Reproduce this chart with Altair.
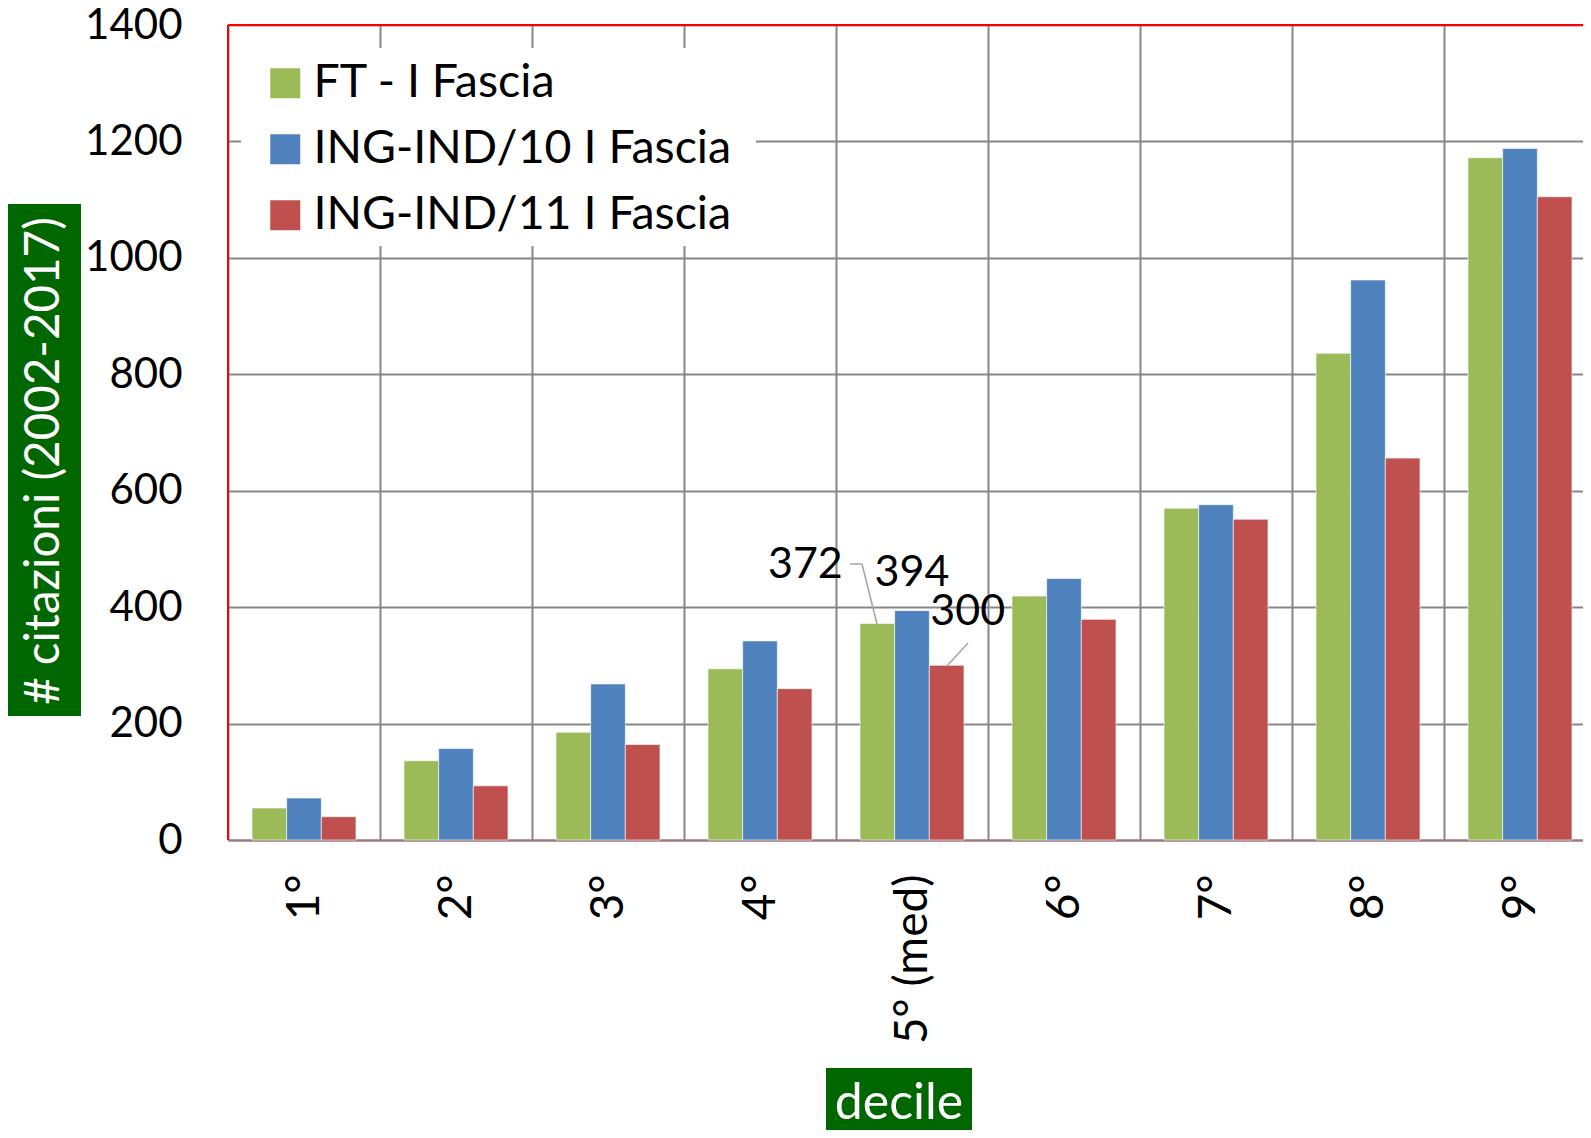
import altair as alt
import pandas as pd

deciles = ["1°", "2°", "3°", "4°", "5° (med)", "6°", "7°", "8°", "9°"]
series = ["FT - I Fascia", "ING-IND/10 I Fascia", "ING-IND/11 I Fascia"]
colors = ["#9BBB59", "#4F81BD", "#C0504D"]
ft = [55, 136, 185, 294, 372, 419, 570, 836, 1172]
ind10 = [72, 157, 268, 342, 394, 449, 576, 962, 1188]
ind11 = [40, 93, 164, 260, 300, 379, 551, 656, 1105]
y_ticks = [0, 200, 400, 600, 800, 1000, 1200, 1400]

rows = []
for i, d in enumerate(deciles):
    for s, vals in zip(series, [ft, ind10, ind11]):
        rows.append({"decile": d, "series": s, "value": vals[i]})
df = pd.DataFrame(rows)

FONT = "Lato"
W, H = 1355, 815
XR = 1368  # full band range (right edge lies just past the visible page)

x_enc = alt.X("decile:N", sort=deciles,
              scale=alt.Scale(paddingInner=0, paddingOuter=0, range=[0, XR]),
              axis=alt.Axis(title=None, labelAngle=270, labelFontSize=46, labelFont=FONT,
                            labelColor="black", labelPadding=34, ticks=False,
                            grid=True, tickBand="extent", gridColor="#878787", gridWidth=2,
                            domainColor="#a07878", domainWidth=2))
xo_enc = alt.XOffset("series:N", sort=series,
                     scale=alt.Scale(paddingInner=0, paddingOuter=0.693))
y_enc = alt.Y("value:Q", scale=alt.Scale(domain=[0, 1400], nice=False),
              axis=alt.Axis(title=None, values=y_ticks, format="d", labelFontSize=42,
                            labelFont=FONT, labelColor="black", labelPadding=46,
                            ticks=False, domain=False,
                            grid=True, gridColor="#878787", gridWidth=2))

one = pd.DataFrame({"k": [0]})

legend_bg = alt.Chart(one).mark_rect(color="white").encode(
    x=alt.value(13), x2=alt.value(528), y=alt.value(23), y2=alt.value(221))

bars = alt.Chart(df).mark_bar(stroke="white", strokeWidth=1, strokeOpacity=0.6).encode(
    x=x_enc, xOffset=xo_enc, y=y_enc,
    color=alt.Color("series:N", sort=series,
                    scale=alt.Scale(domain=series, range=colors),
                    legend=alt.Legend(orient="none", legendX=34, legendY=35, title=None,
                                      symbolType="square", symbolSize=900, symbolStrokeWidth=0,
                                      symbolOpacity=1,
                                      labelFontSize=46.5, labelFont=FONT, labelColor="black",
                                      labelOffset=5, rowPadding=19, padding=0,
                                      labelLimit=700)))

def label(series_name, dx, dy):
    return alt.Chart(df).transform_filter(
        (alt.datum.decile == deciles[4]) & (alt.datum.series == series_name)
    ).mark_text(font=FONT, fontSize=43, color="black", dx=dx, dy=dy).encode(
        x=alt.X("decile:N", sort=deciles), xOffset=alt.XOffset("series:N", sort=series),
        y="value:Q", text="value:Q")

lab1 = label(series[0], -72, -58)
lab2 = label(series[1], 0, -38)
lab3 = label(series[2], 21, -53)

lead_color = "#a6a6a6"
lead1a = alt.Chart(one).mark_rule(color=lead_color, strokeWidth=1.5).encode(
    x=alt.value(622), x2=alt.value(634), y=alt.value(539), y2=alt.value(539))
lead1b = alt.Chart(one).mark_rule(color=lead_color, strokeWidth=1.5).encode(
    x=alt.value(634), x2=alt.value(649), y=alt.value(539), y2=alt.value(599))
lead2 = alt.Chart(one).mark_rule(color=lead_color, strokeWidth=1.5).encode(
    x=alt.value(740), x2=alt.value(719), y=alt.value(618), y2=alt.value(641))

border_top = alt.Chart(one).mark_rule(color="#FF0000", strokeWidth=2).encode(
    x=alt.value(0), x2=alt.value(XR), y=alt.value(0), y2=alt.value(0))
border_left = alt.Chart(one).mark_rule(color="#FF0000", strokeWidth=2).encode(
    x=alt.value(0), x2=alt.value(0), y=alt.value(0), y2=alt.value(H))

ytitle_box = alt.Chart(one).mark_rect(color="#006600").encode(
    x=alt.value(-220), x2=alt.value(-147), y=alt.value(179), y2=alt.value(691))
ytitle = alt.Chart(one).mark_text(font=FONT, fontSize=47.5, color="white", angle=270,
                                  align="center", baseline="middle").encode(
    x=alt.value(-183), y=alt.value(436), text=alt.value("# citazioni (2002-2017)"))

xtitle_box = alt.Chart(one).mark_rect(color="#006600").encode(
    x=alt.value(598), x2=alt.value(744), y=alt.value(1043), y2=alt.value(1105))
xtitle = alt.Chart(one).mark_text(font=FONT, fontSize=50, color="white",
                                  align="center", baseline="alphabetic").encode(
    x=alt.value(671), y=alt.value(1094), text=alt.value("decile"))

chart = alt.layer(
    legend_bg, bars, lab1, lab2, lab3, lead1a, lead1b, lead2,
    border_top, border_left, ytitle_box, ytitle, xtitle_box, xtitle
).properties(
    width=W, height=H,
    padding={"left": 220, "top": 17, "right": 0, "bottom": 290},
    autosize=alt.AutoSizeParams(type="none"),
    background="white",
).configure_view(stroke=None)

chart.save("out.html", embed_options={"renderer": "svg", "actions": False})
